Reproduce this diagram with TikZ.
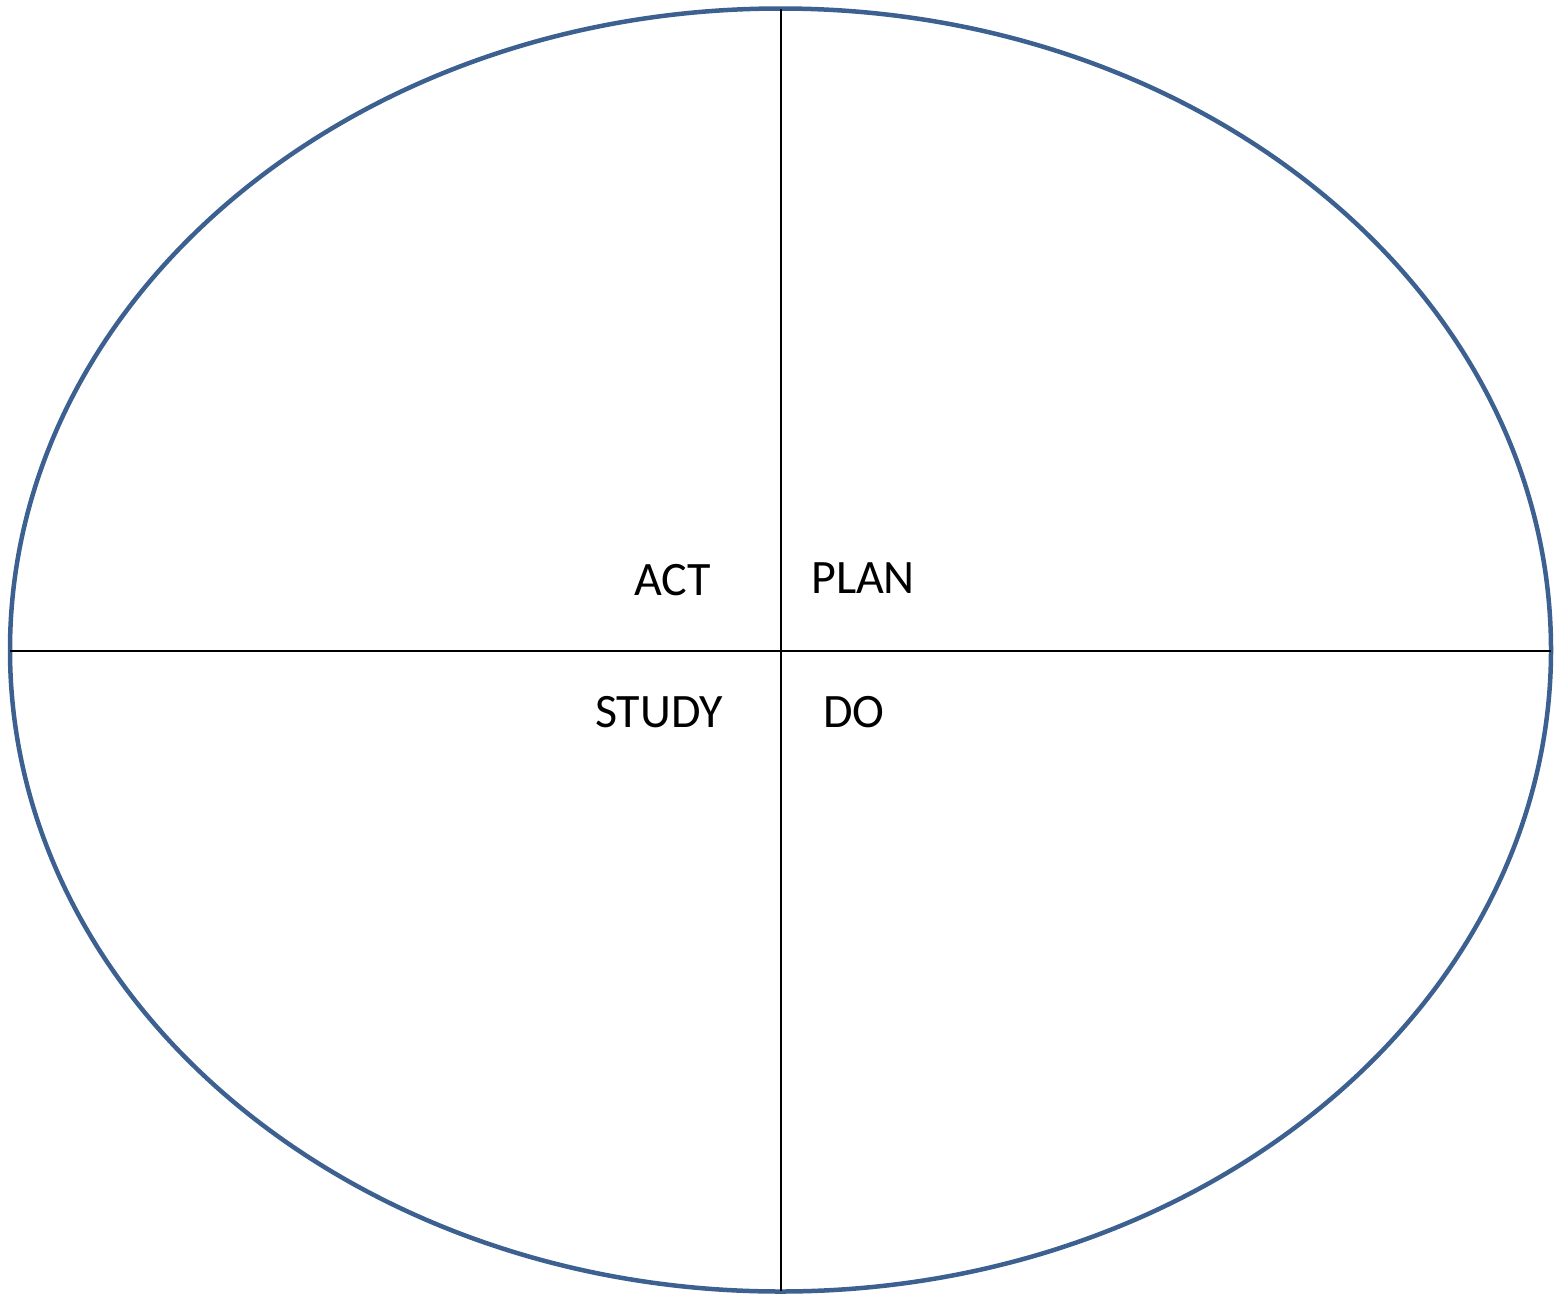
\documentclass[tikz,border=0pt]{standalone}
\usepackage{fontspec}
\setmainfont{Carlito}
\definecolor{ringblue}{HTML}{3C6090}
\begin{document}
\begin{tikzpicture}[x=1pt,y=-1pt,
  ring/.style={draw=ringblue,line width=4.5pt},
  axis/.style={draw=black,line width=2pt},
  lbl/.style={anchor=base west,inner sep=0pt,font=\fontsize{48}{54}\selectfont}]
\useasboundingbox (0,0) rectangle (1558,1293);
\coordinate (top) at (780.5,9);
\coordinate (bot) at (780.5,1291);
\coordinate (lft) at (10,650.5);
\coordinate (rgt) at (1551,650.5);
\draw[ring] (780.5,650) ellipse [x radius=770.5, y radius=641.5];
\draw[axis] (top) -- (bot);
\draw[axis] (lft) -- (rgt);
\node[lbl] (act) at (634,595) {ACT};
\node[lbl] (plan) at (811,593) {PLAN};
\node[lbl] (study) at (595,727) {STUDY};
\node[lbl] (do) at (823,727) {DO};
\end{tikzpicture}
\end{document}
